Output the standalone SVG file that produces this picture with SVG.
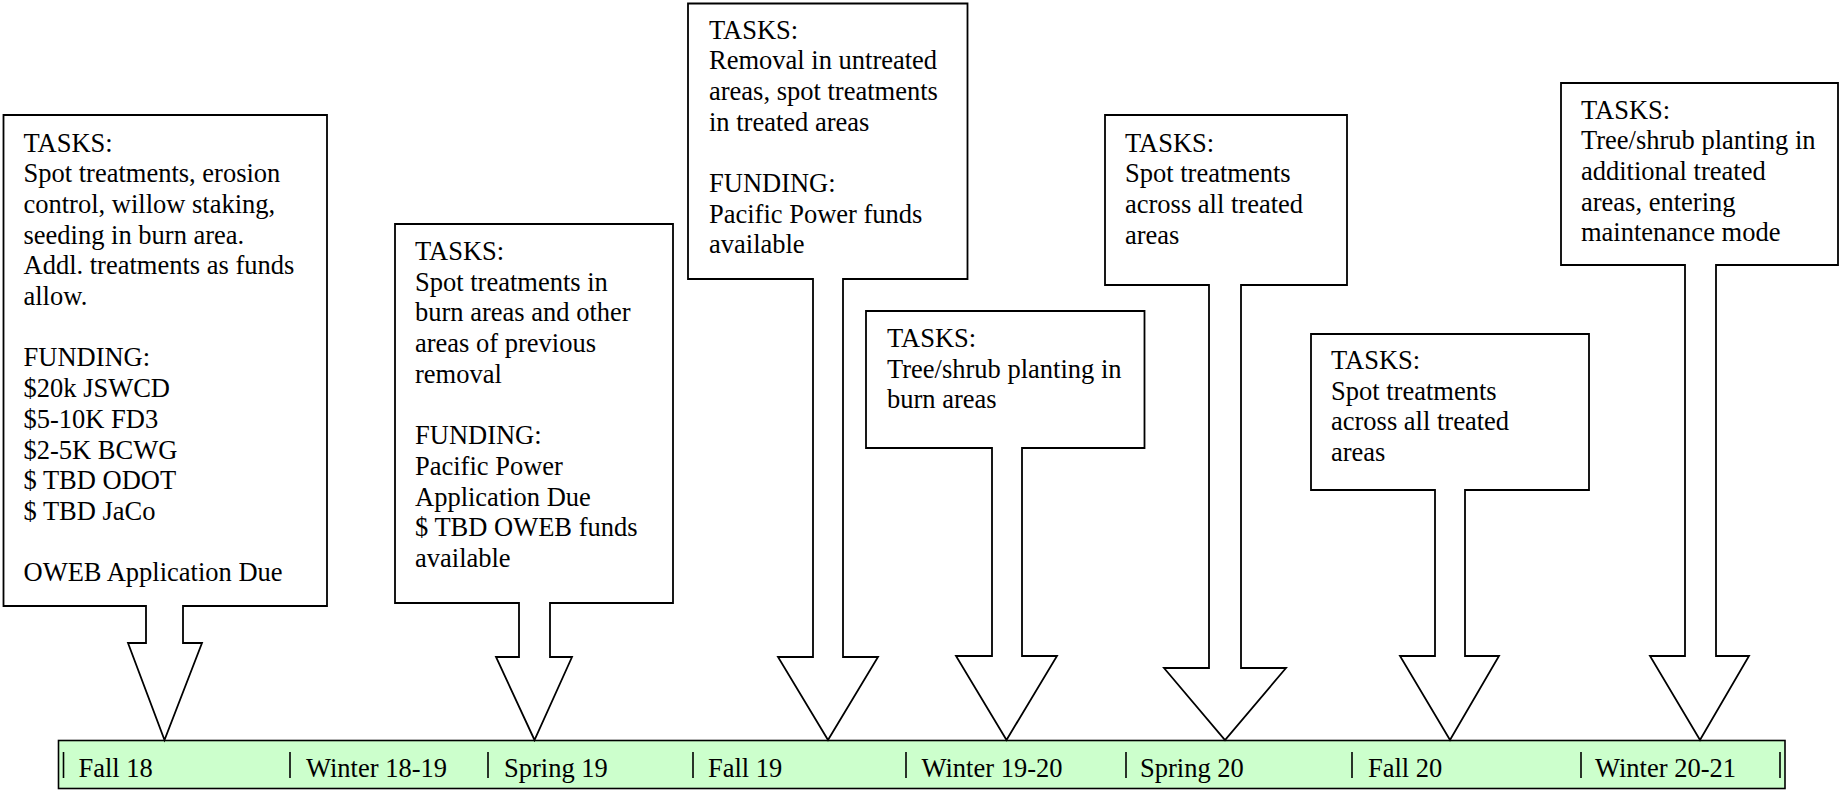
<svg xmlns="http://www.w3.org/2000/svg" width="1839" height="791" viewBox="0 0 1839 791">
<style>
.co{fill:#fff;stroke:#000;stroke-width:1.8;stroke-linejoin:miter}
.t{font-family:"Liberation Serif","Times New Roman",serif;font-size:26.5px;fill:#000}
.bar{fill:#ccffcc;stroke:#000;stroke-width:1.6}
.tick{stroke:#000;stroke-width:1.6}
</style>
<rect width="1839" height="791" fill="#fff"/>
<g id="timeline">
<rect class="bar" x="58.5" y="740.5" width="1726.5" height="48"/>
<g id="ticks">
<line class="tick" x1="63.5" y1="752" x2="63.5" y2="778"/>
<line class="tick" x1="290" y1="752" x2="290" y2="778"/>
<line class="tick" x1="488" y1="752" x2="488" y2="778"/>
<line class="tick" x1="693" y1="752" x2="693" y2="778"/>
<line class="tick" x1="906" y1="752" x2="906" y2="778"/>
<line class="tick" x1="1126" y1="752" x2="1126" y2="778"/>
<line class="tick" x1="1352" y1="752" x2="1352" y2="778"/>
<line class="tick" x1="1581" y1="752" x2="1581" y2="778"/>
<line class="tick" x1="1780" y1="752" x2="1780" y2="778"/>
</g>
<text class="t" x="78.5" y="777">Fall 18</text>
<text class="t" x="306" y="777">Winter 18-19</text>
<text class="t" x="504" y="777">Spring 19</text>
<text class="t" x="708" y="777">Fall 19</text>
<text class="t" x="921.5" y="777">Winter 19-20</text>
<text class="t" x="1140" y="777">Spring 20</text>
<text class="t" x="1368" y="777">Fall 20</text>
<text class="t" x="1595" y="777">Winter 20-21</text>
</g>
<g id="connectors"></g>
<g id="callout-fall18">
<path class="co" d="M3.5,115 H327 V606 H183 V643 H202 L164.5,740 L128,643 H146 V606 H3.5 Z"/>
<text class="t" x="23.5" y="151.5"><tspan x="23.5">TASKS:</tspan><tspan x="23.5" dy="30.7">Spot treatments, erosion</tspan><tspan x="23.5" dy="30.7">control, willow staking,</tspan><tspan x="23.5" dy="30.7">seeding in burn area.</tspan><tspan x="23.5" dy="30.7">Addl. treatments as funds</tspan><tspan x="23.5" dy="30.7">allow.</tspan><tspan x="23.5" dy="61.4">FUNDING:</tspan><tspan x="23.5" dy="30.7">$20k JSWCD</tspan><tspan x="23.5" dy="30.7">$5-10K FD3</tspan><tspan x="23.5" dy="30.7">$2-5K BCWG</tspan><tspan x="23.5" dy="30.7">$ TBD ODOT</tspan><tspan x="23.5" dy="30.7">$ TBD JaCo</tspan><tspan x="23.5" dy="61.4">OWEB Application Due</tspan></text>
</g>
<g id="callout-spring19">
<path class="co" d="M395,224 H673 V603 H550 V657 H572 L534.5,740 L496,657 H519 V603 H395 Z"/>
<text class="t" x="415" y="260"><tspan x="415">TASKS:</tspan><tspan x="415" dy="30.7">Spot treatments in</tspan><tspan x="415" dy="30.7">burn areas and other</tspan><tspan x="415" dy="30.7">areas of previous</tspan><tspan x="415" dy="30.7">removal</tspan><tspan x="415" dy="61.4">FUNDING:</tspan><tspan x="415" dy="30.7">Pacific Power</tspan><tspan x="415" dy="30.7">Application Due</tspan><tspan x="415" dy="30.7">$ TBD OWEB funds</tspan><tspan x="415" dy="30.7">available</tspan></text>
</g>
<g id="callout-fall19">
<path class="co" d="M688,3.5 H967.5 V279 H843 V657 H878 L828,740 L778,657 H813 V279 H688 Z"/>
<text class="t" x="709" y="38.5"><tspan x="709">TASKS:</tspan><tspan x="709" dy="30.7">Removal in untreated</tspan><tspan x="709" dy="30.7">areas, spot treatments</tspan><tspan x="709" dy="30.7">in treated areas</tspan><tspan x="709" dy="61.4">FUNDING:</tspan><tspan x="709" dy="30.7">Pacific Power funds</tspan><tspan x="709" dy="30.7">available</tspan></text>
</g>
<g id="callout-winter1920">
<path class="co" d="M866,311 H1144.5 V448 H1022 V656 H1057 L1006.5,740 L956,656 H992 V448 H866 Z"/>
<text class="t" x="887" y="347"><tspan x="887">TASKS:</tspan><tspan x="887" dy="30.7">Tree/shrub planting in</tspan><tspan x="887" dy="30.7">burn areas</tspan></text>
</g>
<g id="callout-spring20">
<path class="co" d="M1105,115 H1347 V285 H1241 V668 H1286 L1225,740 L1164,668 H1209 V285 H1105 Z"/>
<text class="t" x="1125" y="151.5"><tspan x="1125">TASKS:</tspan><tspan x="1125" dy="30.7">Spot treatments</tspan><tspan x="1125" dy="30.7">across all treated</tspan><tspan x="1125" dy="30.7">areas</tspan></text>
</g>
<g id="callout-fall20">
<path class="co" d="M1311,334 H1589 V490 H1465 V656 H1499 L1450,740 L1400,656 H1435 V490 H1311 Z"/>
<text class="t" x="1331" y="369"><tspan x="1331">TASKS:</tspan><tspan x="1331" dy="30.7">Spot treatments</tspan><tspan x="1331" dy="30.7">across all treated</tspan><tspan x="1331" dy="30.7">areas</tspan></text>
</g>
<g id="callout-winter2021">
<path class="co" d="M1561,83 H1838 V265 H1716 V656 H1749 L1700,740 L1650,656 H1685 V265 H1561 Z"/>
<text class="t" x="1581" y="118.5"><tspan x="1581">TASKS:</tspan><tspan x="1581" dy="30.7">Tree/shrub planting in</tspan><tspan x="1581" dy="30.7">additional treated</tspan><tspan x="1581" dy="30.7">areas, entering</tspan><tspan x="1581" dy="30.7">maintenance mode</tspan></text>
</g>
</svg>
